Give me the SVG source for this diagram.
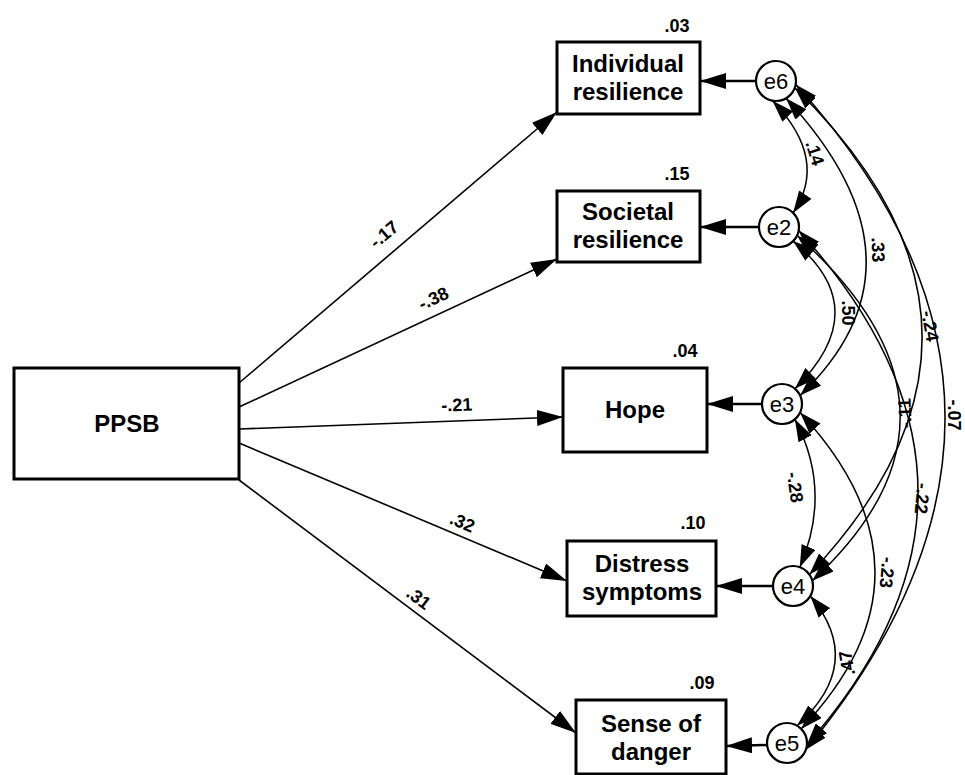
<svg xmlns="http://www.w3.org/2000/svg" width="965" height="775" viewBox="0 0 965 775">
<defs>
<marker id="ah" markerWidth="26" markerHeight="16" refX="26" refY="8" orient="auto" markerUnits="userSpaceOnUse"><path d="M0,0 L26,8 L0,16 z" fill="#000"/></marker>
<marker id="ca" markerWidth="22" markerHeight="15" refX="22" refY="7.5" orient="auto-start-reverse" markerUnits="userSpaceOnUse"><path d="M0,0 L22,7.5 L0,15 z" fill="#000"/></marker>
<style>
.box{fill:#fff;stroke:#000;stroke-width:3}
.circ{fill:#fff;stroke:#000;stroke-width:2.2}
.t{font-family:"Liberation Sans",Arial,sans-serif;font-weight:bold;font-size:24px;text-anchor:middle;fill:#000}
.e{font-family:"Liberation Sans",Arial,sans-serif;font-size:22px;text-anchor:middle;fill:#000}
.n{font-family:"Liberation Sans",Arial,sans-serif;font-weight:bold;font-size:18px;text-anchor:middle;fill:#000}
.p{fill:none;stroke:#000;stroke-width:1.6;marker-end:url(#ah)}
.q{fill:none;stroke:#000;stroke-width:2.4;marker-end:url(#ah)}
.c{fill:none;stroke:#000;stroke-width:1.5;marker-start:url(#ca);marker-end:url(#ca)}
</style>
</defs>
<rect width="965" height="775" fill="#fff"/>
<g id="connectors">
<path class="p" d="M239,383 L557,112"/>
<path class="p" d="M239,407 L557,259"/>
<path class="p" d="M239,429 L563,417"/>
<path class="p" d="M239,443 L567,581"/>
<path class="p" d="M239,480 L576,733"/>
<path class="q" d="M756,81 L700,81"/>
<path class="q" d="M759,227 L700,227"/>
<path class="q" d="M762,404 L707,404"/>
<path class="q" d="M773,586 L716,586"/>
<path class="q" d="M767,745 L726,746"/>
<path class="c" d="M772.5,100.7 Q829.2,159.2 793.1,212.9"/>
<path class="c" d="M786,98.3 Q938.95,263.1 800.1,395.5"/>
<path class="c" d="M794.8,87.8 Q1041.9,328.85 809.4,574.5"/>
<path class="c" d="M795.7,84.5 Q1089.25,406.85 805.8,749.8"/>
<path class="c" d="M793.1,241.1 Q876,309.1 794.9,388.7"/>
<path class="c" d="M797.1,235.5 Q995.3,411.85 812.3,580.8"/>
<path class="c" d="M798.7,230.5 Q1033.2,488.4 806.9,744.7"/>
<path class="c" d="M794.9,419.3 Q832.65,490.75 799.8,567.2"/>
<path class="c" d="M800.1,412.5 Q949.4,573.3 801.1,728.9"/>
<path class="c" d="M810.3,596 Q866.35,663.15 797,725.7"/>
<text class="n" transform="translate(388,239) rotate(-40)">-.17</text>
<text class="n" transform="translate(436,304) rotate(-25)">-.38</text>
<text class="n" transform="translate(457,411) rotate(-2)">-.21</text>
<text class="n" transform="translate(460,528) rotate(23)">.32</text>
<text class="n" transform="translate(415,603) rotate(37)">.31</text>
<text class="n" transform="translate(809,155) rotate(72)">.14</text>
<text class="n" transform="translate(872,250) rotate(88)">.33</text>
<text class="n" transform="translate(924,327) rotate(80)">-.24</text>
<text class="n" transform="translate(948,415) rotate(90)">-.07</text>
<text class="n" transform="translate(842,313) rotate(90)">.50</text>
<text class="n" transform="translate(911,413) rotate(-92)">-.11</text>
<text class="n" transform="translate(916,498) rotate(95)">-.22</text>
<text class="n" transform="translate(789,488) rotate(82)">-.28</text>
<text class="n" transform="translate(881,572) rotate(95)">-.23</text>
<text class="n" transform="translate(853,662) rotate(-100)">.47</text>
</g>
<g id="PPSB"><rect class="box" x="14" y="368" width="225" height="111"/><text class="t" x="127" y="432">PPSB</text></g>
<g id="individual"><rect class="box" x="557" y="42" width="143" height="72"/><text class="t" x="628" y="72">Individual</text><text class="t" x="628" y="100">resilience</text><text class="n" x="677" y="32">.03</text></g>
<g id="societal"><rect class="box" x="557" y="191" width="143" height="71"/><text class="t" x="628" y="220">Societal</text><text class="t" x="628" y="248">resilience</text><text class="n" x="677" y="180">.15</text></g>
<g id="hope"><rect class="box" x="563" y="368" width="144" height="84"/><text class="t" x="635" y="418">Hope</text><text class="n" x="685" y="357">.04</text></g>
<g id="distress"><rect class="box" x="567" y="541" width="149" height="75"/><text class="t" x="642" y="572">Distress</text><text class="t" x="642" y="600">symptoms</text><text class="n" x="693" y="529">.10</text></g>
<g id="danger"><rect class="box" x="576" y="700" width="150" height="74"/><text class="t" x="651" y="732">Sense of</text><text class="t" x="651" y="760">danger</text><text class="n" x="702" y="689">.09</text></g>
<g id="e6"><circle class="circ" cx="776" cy="81" r="20"/><text class="e" x="776" y="89">e6</text></g>
<g id="e2"><circle class="circ" cx="779" cy="227" r="20"/><text class="e" x="779" y="235">e2</text></g>
<g id="e3"><circle class="circ" cx="782" cy="404" r="20"/><text class="e" x="782" y="412">e3</text></g>
<g id="e4"><circle class="circ" cx="793" cy="586" r="20"/><text class="e" x="793" y="594">e4</text></g>
<g id="e5"><circle class="circ" cx="787" cy="743" r="20"/><text class="e" x="787" y="751">e5</text></g>
</svg>
